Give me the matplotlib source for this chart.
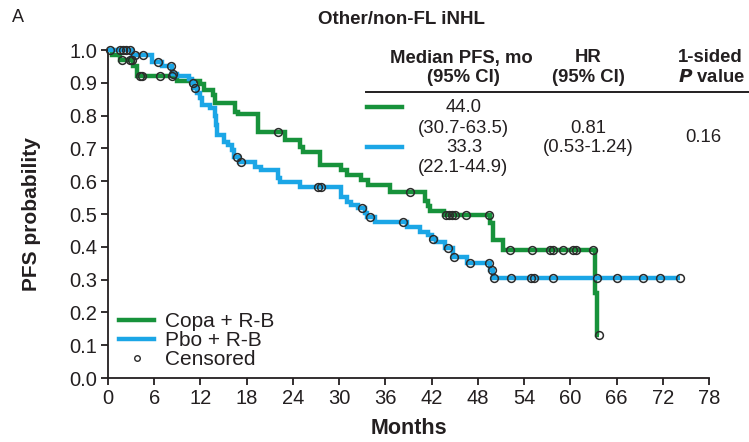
import numpy as np
import matplotlib
matplotlib.use("Agg")
import matplotlib.pyplot as plt
from matplotlib.lines import Line2D

plt.rcParams['font.family'] = ['Liberation Sans', 'DejaVu Sans']

# Kaplan-Meier step data: event times (months) and survival after each step
copa_t = [0, 0.5, 1.5, 3.2, 3.7, 9.0, 12.0, 12.4, 13.6, 13.9, 16.5, 16.9, 19.5,
          23.0, 24.9, 25.3, 27.5, 30.3, 31.0, 32.9, 33.8, 36.6, 41.1, 41.5, 41.8,
          43.6, 49.6, 50.0, 51.3, 63.2, 63.5]
copa_s = [1.0, 0.984, 0.968, 0.952, 0.921, 0.906, 0.895, 0.878, 0.862, 0.838, 0.812,
          0.805, 0.751, 0.725, 0.705, 0.69, 0.649, 0.634, 0.619, 0.604, 0.588, 0.568,
          0.54, 0.525, 0.51, 0.497, 0.472, 0.42, 0.39, 0.26, 0.13]
copa_cens = [1.8, 2.9, 3.1, 4.2, 4.4, 6.7, 8.3, 22.1, 39.2, 43.9, 44.3, 44.7, 45.0,
             46.5, 49.4, 52.2, 55.0, 57.4, 57.8, 59.1, 60.3, 60.7, 62.9, 63.7]

pbo_t = [0, 3.1, 5.7, 7.0, 8.3, 9.0, 10.5, 10.9, 11.2, 11.5, 11.9, 12.2, 13.2, 13.9,
         14.05, 14.2, 15.0, 15.6, 16.1, 16.4, 17.0, 19.1, 19.9, 22.1, 22.3, 24.9, 30.3,
         31.0, 31.6, 32.4, 33.3, 33.6, 34.6, 38.8, 40.5, 41.5, 42.0, 42.6, 43.8, 44.8,
         46.6, 49.6, 50.0]
pbo_s = [1.0, 0.985, 0.962, 0.95, 0.926, 0.921, 0.912, 0.898, 0.884, 0.868, 0.853,
         0.832, 0.822, 0.80, 0.77, 0.741, 0.72, 0.71, 0.695, 0.675, 0.66, 0.644, 0.634,
         0.61, 0.598, 0.583, 0.553, 0.537, 0.527, 0.517, 0.502, 0.49, 0.476, 0.461,
         0.446, 0.436, 0.425, 0.416, 0.395, 0.368, 0.35, 0.329, 0.304]
pbo_cens = [0.2, 1.6, 2.0, 2.4, 2.8, 3.5, 4.6, 6.5, 8.2, 8.4, 11.0, 11.3, 16.7, 17.3,
            27.3, 27.7, 33.0, 34.0, 38.3, 42.2, 44.1, 44.9, 47.0, 49.4, 49.8, 50.1,
            52.3, 54.9, 55.3, 57.7, 63.5, 66.1, 69.4, 71.6, 74.2]

x_ticks = list(range(0, 79, 6))
y_ticks = [round(0.1 * i, 1) for i in range(11)]

series_names = ["Copa + R-B", "Pbo + R-B"]
median_pfs = ["44.0", "33.3"]
median_ci = ["(30.7-63.5)", "(22.1-44.9)"]
hr_text = ["0.81", "(0.53-1.24)"]
p_text = "0.16"

GREEN = "#17923b"
BLUE = "#1ba6e6"
INK = "#231f20"

W, H = 749, 442
fig = plt.figure(figsize=(W / 100, H / 100), dpi=100)


def fx(px):
    return px / W


def fy(py):
    return 1 - py / H


ax = fig.add_axes([fx(108), fy(378), fx(709) - fx(108), fy(50) - fy(378)])


def km_at(t_steps, s_steps, t):
    idx = np.searchsorted(np.asarray(t_steps), t, side="right") - 1
    return np.asarray(s_steps)[idx]


def draw_km(t_steps, s_steps, cens, color, z):
    t_end = max(max(cens), t_steps[-1])
    tt = list(t_steps) + [t_end]
    ss = list(s_steps) + [s_steps[-1]]
    ax.step(tt, ss, where="post", color=color, lw=3.2, solid_capstyle="butt",
            solid_joinstyle="miter", zorder=z, clip_on=False)


draw_km(copa_t, copa_s, copa_cens, GREEN, 3)
draw_km(pbo_t, pbo_s, pbo_cens, BLUE, 4)

for t_steps, s_steps, cens in [(copa_t, copa_s, copa_cens), (pbo_t, pbo_s, pbo_cens)]:
    cy = km_at(t_steps, s_steps, cens)
    ax.plot(cens, cy, ls="none", marker="o", ms=5.6, mfc="none", mec="#2b2b2b",
            mew=1.1, zorder=6, clip_on=False)

ax.set_xlim(0, 78)
ax.set_ylim(0, 1.0)
ax.set_xticks(x_ticks)
ax.set_yticks(y_ticks)
ax.set_yticklabels([f"{v:.1f}" for v in y_ticks])
for side in ["top", "right"]:
    ax.spines[side].set_visible(False)
for side in ["left", "bottom"]:
    ax.spines[side].set_linewidth(1.3)
    ax.spines[side].set_color(INK)
ax.tick_params(direction="out", length=5, width=1.3, color=INK, labelcolor=INK,
               labelsize=14.5, pad=3)
ax.set_xlabel("Months", fontsize=15.5, fontweight="bold", color=INK)
ax.set_ylabel("PFS probability", fontsize=15, fontweight="bold", color=INK)
ax.xaxis.set_label_coords(0.5, -0.122)
ax.yaxis.set_label_coords(-0.112, 0.5)

handles = [Line2D([], [], color=GREEN, lw=3.2),
           Line2D([], [], color=BLUE, lw=3.2),
           Line2D([], [], ls="none", marker="o", ms=4, mfc="none", mec="#2b2b2b", mew=1.0)]
ax.legend(handles, series_names + ["Censored"], loc="lower left",
          bbox_to_anchor=((119 - 108) / 601, (378 - 369) / 328), frameon=False,
          fontsize=15, handlelength=1.7, handletextpad=0.5, labelspacing=0.0,
          borderaxespad=0.0, borderpad=0.0, labelcolor=INK)

# Title and panel letter
fig.text(fx(12), fy(18), "A", fontsize=13, color=INK, va="center", ha="left")
fig.text(fx(402), fy(19), "Other/non-FL iNHL", fontsize=13.5, fontweight="bold",
         color=INK, va="center", ha="center")

# Summary table
tkw = dict(fontsize=13.3, color=INK, va="center", ha="center")
fig.text(fx(461), fy(58), "Median PFS, mo", fontweight="bold", **tkw)
fig.text(fx(463), fy(78), "(95% CI)", fontweight="bold", **tkw)
fig.text(fx(588), fy(58), "HR", fontweight="bold", **tkw)
fig.text(fx(588), fy(78), "(95% CI)", fontweight="bold", **tkw)
fig.text(fx(710), fy(58), "1-sided", fontweight="bold", **tkw)
fig.text(fx(712), fy(78), r"$\bfit{P}$ value", fontweight="bold", **tkw)
fig.add_artist(Line2D([fx(366), fx(749)], [fy(92), fy(92)], color=INK, lw=1.4))

fig.add_artist(Line2D([fx(367), fx(402)], [fy(107), fy(107)], color=GREEN, lw=3.2))
fig.add_artist(Line2D([fx(367), fx(402)], [fy(147), fy(147)], color=BLUE, lw=3.2))
fig.text(fx(464), fy(108), median_pfs[0], **tkw)
fig.text(fx(463), fy(128), median_ci[0], **tkw)
fig.text(fx(464), fy(148), median_pfs[1], **tkw)
fig.text(fx(463), fy(168), median_ci[1], **tkw)
fig.text(fx(588), fy(128), hr_text[0], **tkw)
fig.text(fx(588), fy(148), hr_text[1], **tkw)
fig.text(fx(703), fy(138), p_text, **tkw)

fig.savefig("out.png", dpi=100)
